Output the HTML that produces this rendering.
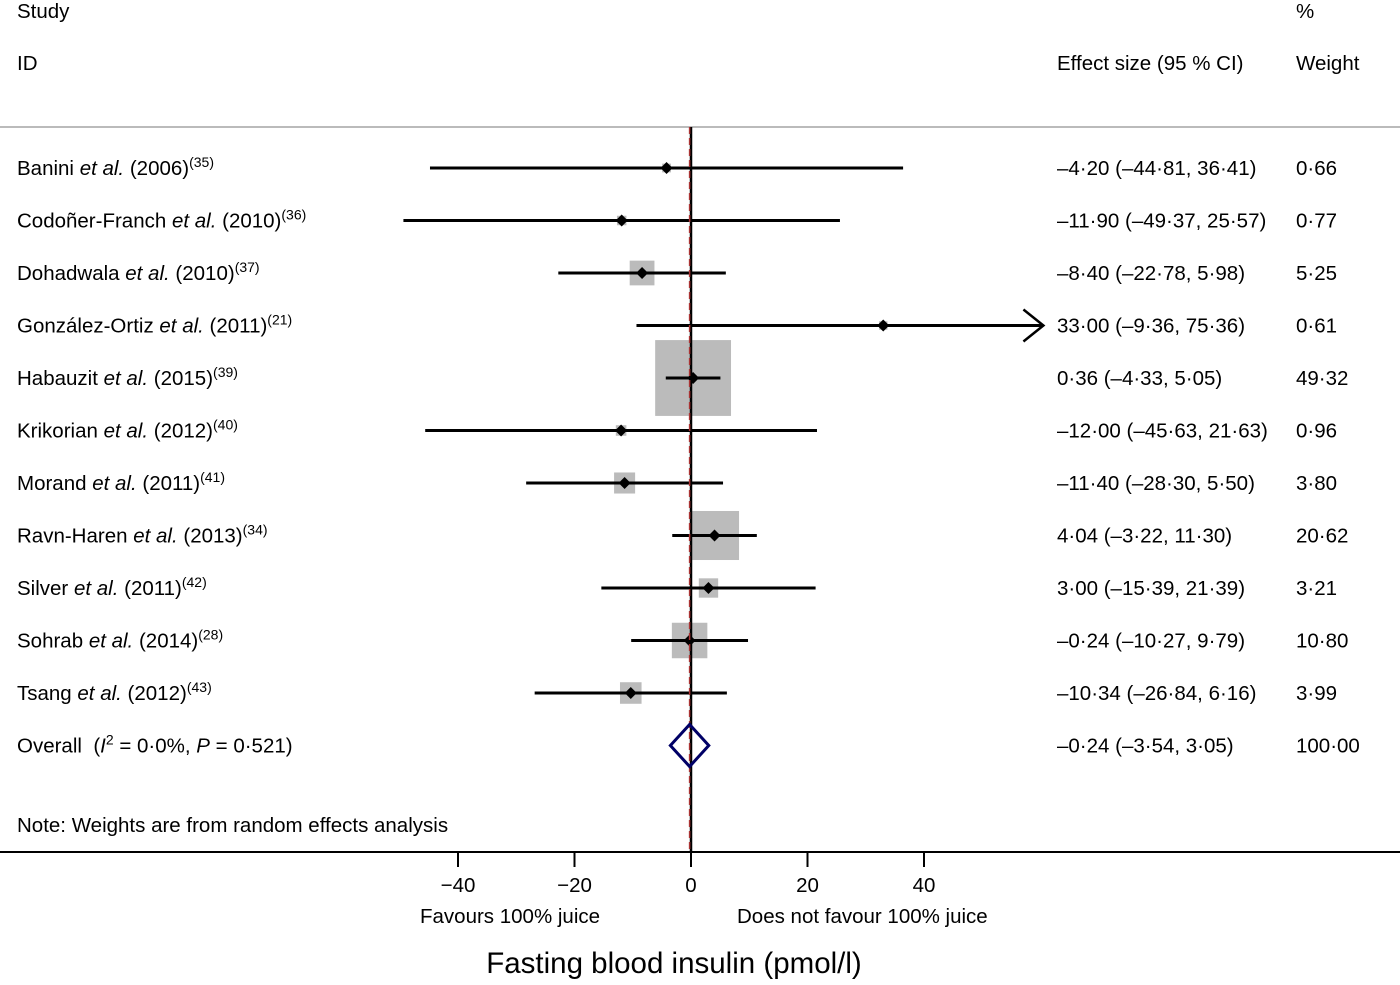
<!DOCTYPE html>
<html><head><meta charset="utf-8"><style>
body{margin:0;background:#fff}
svg text{font-family:"Liberation Sans",Arial,sans-serif;font-size:20.5px;fill:#000}
</style></head><body>
<svg id="chart" width="1400" height="980" viewBox="0 0 1400 980" xmlns="http://www.w3.org/2000/svg">
<g id="static">
<text x="17" y="18">Study</text>
<text x="17" y="70">ID</text>
<text x="1057" y="70">Effect size (95 % CI)</text>
<text x="1296" y="18">%</text>
<text x="1296" y="70">Weight</text>
<line x1="0" y1="127" x2="1400" y2="127" stroke="#bbb" stroke-width="2"/>
<line x1="0" y1="852" x2="1400" y2="852" stroke="#000" stroke-width="2"/>
<text x="17" y="832">Note: Weights are from random effects analysis</text>
<text x="420" y="923">Favours 100% juice</text>
<text x="737" y="923">Does not favour 100% juice</text>
<text x="674" y="973" text-anchor="middle" style="font-size:29.5px">Fasting blood insulin (pmol/l)</text>
</g>
<g id="marks"></g>
</svg>
<script>
const studies=["Banini","Codoñer-Franch","Dohadwala","González-Ortiz","Habauzit","Krikorian","Morand","Ravn-Haren","Silver","Sohrab","Tsang"];
const years=["2006","2010","2010","2011","2015","2012","2011","2013","2011","2014","2012"];
const refs=["35","36","37","21","39","40","41","34","42","28","43"];
const effects=[-4.20,-11.90,-8.40,33.00,0.36,-12.00,-11.40,4.04,3.00,-0.24,-10.34];
const lowers=[-44.81,-49.37,-22.78,-9.36,-4.33,-45.63,-28.30,-3.22,-15.39,-10.27,-26.84];
const uppers=[36.41,25.57,5.98,75.36,5.05,21.63,5.50,11.30,21.39,9.79,6.16];
const weights=[0.66,0.77,5.25,0.61,49.32,0.96,3.80,20.62,3.21,10.80,3.99];
const overall=[-0.24,-3.54,3.05,100.00];
const ticks=[-40,-20,0,20,40];
const xMin=-60,xMax=60.5;
const NS="http://www.w3.org/2000/svg";
const g=document.getElementById('marks');
const X=v=>691+v*5.825;
const Y=i=>168+i*52.5;
const fmt=v=>(v<0?'\u2013':'')+Math.abs(v).toFixed(2).replace('.','\u00b7');
function el(t,a){const e=document.createElementNS(NS,t);for(const k in a)e.setAttribute(k,a[k]);g.appendChild(e);return e;}
studies.forEach((s,i)=>{
  const y=Y(i);
  const side=10.8*Math.sqrt(weights[i]);
  const b=el('rect',{x:X(effects[i])-side/2,y:y-side/2,width:side,height:side,fill:'#bbb'});
  
  
  const hi=Math.min(uppers[i],xMax),lo=Math.max(lowers[i],xMin);
  const l=el('line',{x1:X(lo),y1:y,x2:X(hi),y2:y,stroke:'#000','stroke-width':3});
  
  
  if(uppers[i]>xMax){
    const a=el('path',{d:`M${X(hi)-20} ${y-16} L${X(hi)} ${y} L${X(hi)-20} ${y+16}`,stroke:'#000','stroke-width':2.5,fill:'none'});
    
    
  }
  const p=el('path',{d:`M${X(effects[i])-6} ${y} L${X(effects[i])} ${y-6} L${X(effects[i])+6} ${y} L${X(effects[i])} ${y+6}Z`,fill:'#000'});
  
  
  const t=el('text',{x:17,y:y+7});
  t.innerHTML=`${s} <tspan font-style="italic">et al.</tspan> (${years[i]})<tspan dy="-8" style="font-size:14px">(${refs[i]})</tspan>`;
  
  
  const e=el('text',{x:1057,y:y+7});
  e.textContent=`${fmt(effects[i])} (${fmt(lowers[i])}, ${fmt(uppers[i])})`;
  
  
  const w=el('text',{x:1296,y:y+7});
  w.textContent=fmt(weights[i]);
  
  
});
const oy=Y(studies.length);
const z=el('line',{x1:X(0),y1:127,x2:X(0),y2:852,stroke:'#000','stroke-width':2.5});


const od=el('line',{x1:X(overall[0]),y1:127,x2:X(overall[0]),y2:852,stroke:'#a33','stroke-width':1.5,'stroke-dasharray':'7 4'});


const dm=el('path',{d:`M${X(overall[1])} ${oy} L${X(overall[0])} ${oy-21} L${X(overall[2])} ${oy} L${X(overall[0])} ${oy+21}Z`,fill:'none',stroke:'#000066','stroke-width':3});


const ol=el('text',{x:17,y:oy+7});
ol.innerHTML='Overall&#160;&#160;(<tspan font-style="italic">I</tspan><tspan dy="-8" style="font-size:14px">2</tspan><tspan dy="8"> = 0·0%, </tspan><tspan font-style="italic">P</tspan> = 0·521)';


const oe=el('text',{x:1057,y:oy+7});
oe.textContent=`${fmt(overall[0])} (${fmt(overall[1])}, ${fmt(overall[2])})`;


const ow=el('text',{x:1296,y:oy+7});
ow.textContent=fmt(overall[3]);


ticks.forEach(v=>{
  const tk=el('line',{x1:X(v),y1:852,x2:X(v),y2:867,stroke:'#000','stroke-width':2});
  
  
  const tl=el('text',{x:X(v),y:892,'text-anchor':'middle'});
  tl.textContent=(v<0?'\u2212':'')+Math.abs(v);
  
  
});
</script>
</body></html>
